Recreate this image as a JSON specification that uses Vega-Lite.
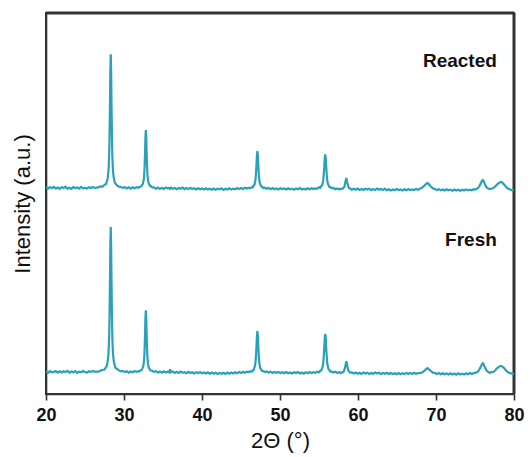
{
  "$schema": "https://vega.github.io/schema/vega-lite/v6.json",
  "autosize": {"type": "none"},
  "width": 468,
  "height": 381,
  "padding": {"left": 46, "top": 13, "right": 16, "bottom": 63},
  "background": "white",
  "view": {"stroke": "#333333", "strokeWidth": 2},
  "datasets": {
    "xrd": [
      {"x":20,"r":206.5,"f":22.4},{"x":20.25,"r":205.3,"f":21.2},{"x":20.5,"r":206.9,"f":22.9},{"x":20.75,"r":205.8,"f":21.6},
      {"x":21,"r":207.2,"f":22.1},{"x":21.25,"r":205.6,"f":23.0},{"x":21.5,"r":206.4,"f":21.3},{"x":21.75,"r":205.2,"f":22.6},
      {"x":22,"r":206.8,"f":21.5},{"x":22.25,"r":206.0,"f":22.8},{"x":22.5,"r":207.3,"f":21.9},{"x":22.75,"r":205.4,"f":23.1},
      {"x":23,"r":206.3,"f":21.4},{"x":23.25,"r":205.1,"f":22.5},{"x":23.5,"r":206.9,"f":21.7},{"x":23.75,"r":205.9,"f":22.9},
      {"x":24,"r":206.6,"f":21.2},{"x":24.25,"r":205.3,"f":22.3},{"x":24.5,"r":207.0,"f":21.8},{"x":24.75,"r":205.7,"f":23.0},
      {"x":25,"r":206.2,"f":22.0},{"x":25.25,"r":205.5,"f":21.4},{"x":25.5,"r":206.8,"f":22.7},{"x":25.75,"r":205.9,"f":22.1},
      {"x":26,"r":207.0,"f":23.0},{"x":26.25,"r":206.1,"f":22.2},{"x":26.5,"r":206.4,"f":22.5},{"x":26.75,"r":206.9,"f":22.3},
      {"x":27,"r":207.6,"f":23.4},{"x":27.25,"r":207.4,"f":24.0},{"x":27.5,"r":209.2,"f":24.5},{"x":27.7,"r":210.0,"f":26.9},
      {"x":27.8,"r":212.6,"f":28.2},{"x":27.9,"r":215.0,"f":32.6},{"x":28.0,"r":222.5,"f":39.0},{"x":28.05,"r":228.4,"f":47.1},
      {"x":28.1,"r":239.8,"f":58.0},{"x":28.15,"r":259.2,"f":80.3},{"x":28.2,"r":289.2,"f":111.6},{"x":28.25,"r":323.3,"f":149.9},
      {"x":28.3,"r":339.6,"f":167.0},{"x":28.35,"r":323.9,"f":149.2},{"x":28.4,"r":288.5,"f":112.2},{"x":28.45,"r":259.8,"f":79.7},
      {"x":28.5,"r":239.2,"f":58.6},{"x":28.55,"r":229.2,"f":46.4},{"x":28.6,"r":221.8,"f":39.7},{"x":28.7,"r":215.7,"f":31.9},
      {"x":28.8,"r":211.8,"f":28.8},{"x":28.9,"r":210.7,"f":26.3},{"x":29.1,"r":208.5,"f":25.2},{"x":29.35,"r":207.3,"f":23.6},
      {"x":29.6,"r":207.0,"f":22.6},{"x":29.85,"r":206.1,"f":23.1},{"x":30.1,"r":206.8,"f":21.9},{"x":30.35,"r":205.5,"f":22.8},
      {"x":30.6,"r":206.6,"f":21.4},{"x":30.85,"r":205.4,"f":22.5},{"x":31.1,"r":206.7,"f":21.8},{"x":31.35,"r":205.8,"f":23.0},
      {"x":31.6,"r":206.9,"f":22.1},{"x":31.85,"r":206.3,"f":22.9},{"x":32.0,"r":207.3,"f":22.7},{"x":32.2,"r":207.5,"f":24.1},
      {"x":32.3,"r":208.9,"f":24.3},{"x":32.4,"r":209.7,"f":26.4},{"x":32.5,"r":213.2,"f":28.9},{"x":32.55,"r":215.5,"f":32.6},
      {"x":32.6,"r":220.7,"f":37.0},{"x":32.65,"r":228.8,"f":46.9},{"x":32.7,"r":242.2,"f":59.9},{"x":32.75,"r":256.6,"f":76.7},
      {"x":32.8,"r":263.9,"f":83.8},{"x":32.85,"r":257.2,"f":76.1},{"x":32.9,"r":241.6,"f":60.5},{"x":32.95,"r":229.4,"f":46.3},
      {"x":33.0,"r":220.1,"f":37.6},{"x":33.05,"r":216.1,"f":32.0},{"x":33.1,"r":212.6,"f":29.5},{"x":33.2,"r":210.3,"f":25.8},
      {"x":33.3,"r":208.2,"f":24.9},{"x":33.4,"r":208.1,"f":23.5},{"x":33.6,"r":206.8,"f":23.3},{"x":33.85,"r":206.4,"f":22.2},
      {"x":34.1,"r":205.3,"f":22.8},{"x":34.35,"r":206.5,"f":21.5},{"x":34.6,"r":205.1,"f":22.4},{"x":34.85,"r":206.2,"f":21.2},
      {"x":35.1,"r":205.0,"f":22.6},{"x":35.35,"r":206.4,"f":21.6},{"x":35.6,"r":205.6,"f":22.3},{"x":35.8,"r":206.0,"f":21.5},
      {"x":35.9,"r":205.2,"f":24.8},{"x":36.0,"r":206.3,"f":21.9},{"x":36.25,"r":205.3,"f":22.5},{"x":36.5,"r":206.1,"f":21.1},
      {"x":36.75,"r":204.9,"f":22.2},{"x":37.0,"r":206.0,"f":21.0},{"x":37.25,"r":205.2,"f":22.4},{"x":37.5,"r":206.4,"f":21.3},
      {"x":37.75,"r":204.8,"f":21.9},{"x":38.0,"r":205.9,"f":20.8},{"x":38.25,"r":205.0,"f":22.1},{"x":38.5,"r":206.2,"f":21.0},
      {"x":38.75,"r":204.9,"f":21.8},{"x":39.0,"r":205.7,"f":20.6},{"x":39.25,"r":204.6,"f":21.7},{"x":39.5,"r":205.8,"f":20.9},
      {"x":39.75,"r":204.7,"f":22.0},{"x":40.0,"r":205.6,"f":20.7},{"x":40.25,"r":204.5,"f":21.5},{"x":40.5,"r":205.7,"f":20.5},
      {"x":40.75,"r":204.4,"f":21.6},{"x":41.0,"r":205.2,"f":20.3},{"x":41.25,"r":204.3,"f":21.4},{"x":41.5,"r":205.5,"f":20.2},
      {"x":41.75,"r":204.2,"f":21.2},{"x":42.0,"r":205.3,"f":20.0},{"x":42.25,"r":204.6,"f":21.1},{"x":42.5,"r":205.6,"f":20.3},
      {"x":42.75,"r":204.1,"f":21.3},{"x":43.0,"r":205.2,"f":20.1},{"x":43.25,"r":204.5,"f":21.5},{"x":43.5,"r":205.7,"f":20.4},
      {"x":43.75,"r":204.4,"f":21.6},{"x":44.0,"r":205.4,"f":20.6},{"x":44.25,"r":204.8,"f":21.8},{"x":44.5,"r":205.9,"f":20.7},
      {"x":44.75,"r":204.9,"f":22.0},{"x":45.0,"r":206.0,"f":21.0},{"x":45.25,"r":205.1,"f":22.2},{"x":45.5,"r":206.2,"f":21.3},
      {"x":45.75,"r":205.4,"f":22.4},{"x":46.0,"r":206.3,"f":21.9},{"x":46.15,"r":205.8,"f":22.7},{"x":46.4,"r":206.9,"f":22.4},
      {"x":46.5,"r":206.6,"f":23.8},{"x":46.62,"r":208.3,"f":24.0},{"x":46.74,"r":209.5,"f":26.9},{"x":46.8,"r":212.0,"f":28.3},
      {"x":46.86,"r":214.4,"f":32.2},{"x":46.92,"r":220.6,"f":37.8},{"x":46.98,"r":228.3,"f":47.5},{"x":47.04,"r":238.5,"f":57.8},
      {"x":47.1,"r":242.8,"f":63.0},{"x":47.16,"r":238.1,"f":58.2},{"x":47.22,"r":228.9,"f":46.9},{"x":47.28,"r":220.0,"f":38.4},
      {"x":47.34,"r":215.0,"f":31.6},{"x":47.4,"r":211.4,"f":28.9},{"x":47.46,"r":210.1,"f":26.2},{"x":47.58,"r":207.6,"f":24.7},
      {"x":47.7,"r":207.3,"f":23.1},{"x":47.82,"r":206.2,"f":23.0},{"x":48.06,"r":206.4,"f":22.0},{"x":48.3,"r":205.2,"f":22.6},
      {"x":48.55,"r":206.1,"f":21.4},{"x":48.8,"r":204.8,"f":22.3},{"x":49.05,"r":205.9,"f":21.0},{"x":49.3,"r":204.7,"f":22.1},
      {"x":49.55,"r":205.6,"f":21.2},{"x":49.8,"r":204.6,"f":22.0},{"x":50.05,"r":205.8,"f":20.9},{"x":50.3,"r":204.9,"f":21.8},
      {"x":50.55,"r":205.5,"f":20.7},{"x":50.8,"r":204.5,"f":21.9},{"x":51.05,"r":205.7,"f":20.8},{"x":51.3,"r":204.6,"f":21.6},
      {"x":51.55,"r":205.4,"f":20.6},{"x":51.8,"r":204.3,"f":21.7},{"x":52.05,"r":205.6,"f":20.9},{"x":52.3,"r":204.8,"f":21.9},
      {"x":52.55,"r":205.9,"f":20.6},{"x":52.8,"r":204.5,"f":21.5},{"x":53.05,"r":205.3,"f":20.4},{"x":53.3,"r":204.4,"f":21.7},
      {"x":53.55,"r":205.7,"f":20.8},{"x":53.8,"r":204.7,"f":22.0},{"x":54.05,"r":205.8,"f":20.9},{"x":54.3,"r":204.9,"f":21.8},
      {"x":54.55,"r":205.6,"f":21.2},{"x":54.76,"r":205.3,"f":22.3},{"x":55.02,"r":206.8,"f":21.8},{"x":55.15,"r":206.2,"f":23.2},
      {"x":55.28,"r":207.8,"f":23.4},{"x":55.41,"r":208.7,"f":26.1},{"x":55.48,"r":211.2,"f":27.3},{"x":55.54,"r":213.3,"f":31.1},
      {"x":55.6,"r":219.1,"f":36.3},{"x":55.67,"r":226.1,"f":45.5},{"x":55.73,"r":235.7,"f":55.0},{"x":55.8,"r":239.5,"f":60.0},
      {"x":55.87,"r":235.1,"f":55.6},{"x":55.93,"r":226.7,"f":44.9},{"x":56.0,"r":218.5,"f":36.9},{"x":56.06,"r":213.9,"f":30.5},
      {"x":56.12,"r":210.6,"f":27.9},{"x":56.19,"r":209.4,"f":25.4},{"x":56.32,"r":207.1,"f":24.0},{"x":56.45,"r":206.9,"f":22.5},
      {"x":56.58,"r":205.8,"f":22.6},{"x":56.84,"r":206.0,"f":21.5},{"x":57.1,"r":204.7,"f":22.2},{"x":57.35,"r":205.6,"f":21.0},
      {"x":57.6,"r":204.5,"f":21.9},{"x":57.8,"r":205.2,"f":20.9},{"x":58.02,"r":205.4,"f":22.0},{"x":58.14,"r":206.3,"f":22.0},
      {"x":58.26,"r":207.2,"f":24.2},{"x":58.38,"r":211.9,"f":28.0},{"x":58.5,"r":216.1,"f":32.9},{"x":58.62,"r":211.5,"f":28.6},
      {"x":58.74,"r":207.8,"f":23.6},{"x":58.86,"r":205.7,"f":22.6},{"x":58.98,"r":205.6,"f":21.4},{"x":59.2,"r":204.3,"f":21.6},
      {"x":59.45,"r":205.3,"f":20.5},{"x":59.7,"r":204.2,"f":21.5},{"x":59.95,"r":205.4,"f":20.3},{"x":60.2,"r":204.1,"f":21.3},
      {"x":60.45,"r":205.0,"f":20.1},{"x":60.7,"r":204.0,"f":21.4},{"x":60.95,"r":205.2,"f":20.4},{"x":61.2,"r":204.4,"f":21.2},
      {"x":61.45,"r":205.3,"f":20.0},{"x":61.7,"r":203.9,"f":21.1},{"x":61.95,"r":204.9,"f":20.3},{"x":62.2,"r":204.0,"f":21.4},
      {"x":62.45,"r":205.4,"f":20.5},{"x":62.7,"r":204.3,"f":21.2},{"x":62.95,"r":205.1,"f":20.0},{"x":63.2,"r":204.0,"f":21.0},
      {"x":63.45,"r":205.2,"f":20.2},{"x":63.7,"r":203.8,"f":21.3},{"x":63.95,"r":204.7,"f":20.1},{"x":64.2,"r":203.6,"f":21.0},
      {"x":64.45,"r":204.6,"f":19.9},{"x":64.7,"r":203.7,"f":20.8},{"x":64.95,"r":204.9,"f":19.8},{"x":65.2,"r":203.9,"f":20.9},
      {"x":65.45,"r":204.5,"f":19.7},{"x":65.7,"r":203.6,"f":20.7},{"x":65.95,"r":204.8,"f":19.9},{"x":66.2,"r":203.8,"f":21.0},
      {"x":66.45,"r":205.0,"f":20.1},{"x":66.7,"r":203.9,"f":21.1},{"x":66.95,"r":204.6,"f":20.0},{"x":67.2,"r":204.0,"f":21.2},
      {"x":67.45,"r":205.1,"f":20.3},{"x":67.7,"r":204.2,"f":21.0},{"x":67.95,"r":205.5,"f":20.9},{"x":68.2,"r":206.3,"f":21.4},
      {"x":68.45,"r":207.8,"f":22.9},{"x":68.7,"r":210.0,"f":24.6},{"x":68.9,"r":211.0,"f":25.8},{"x":69.1,"r":209.6,"f":24.7},
      {"x":69.35,"r":207.5,"f":23.0},{"x":69.6,"r":205.6,"f":21.3},{"x":69.85,"r":205.1,"f":21.2},{"x":70.1,"r":203.9,"f":20.0},
      {"x":70.35,"r":204.8,"f":20.9},{"x":70.6,"r":203.7,"f":19.8},{"x":70.85,"r":204.6,"f":20.8},{"x":71.1,"r":203.5,"f":19.7},
      {"x":71.35,"r":204.7,"f":20.6},{"x":71.6,"r":203.6,"f":19.5},{"x":71.85,"r":204.4,"f":20.7},{"x":72.1,"r":203.3,"f":19.6},
      {"x":72.35,"r":204.5,"f":20.5},{"x":72.6,"r":203.4,"f":19.4},{"x":72.85,"r":204.3,"f":20.6},{"x":73.1,"r":203.2,"f":19.5},
      {"x":73.35,"r":204.2,"f":20.4},{"x":73.6,"r":203.5,"f":19.6},{"x":73.85,"r":204.6,"f":20.8},{"x":74.1,"r":203.6,"f":19.8},
      {"x":74.35,"r":204.4,"f":20.9},{"x":74.6,"r":203.7,"f":20.0},{"x":74.85,"r":204.8,"f":20.9},{"x":75.1,"r":204.6,"f":21.3},
      {"x":75.35,"r":205.8,"f":22.2},{"x":75.55,"r":207.6,"f":24.3},{"x":75.75,"r":211.0,"f":27.5},{"x":75.9,"r":213.4,"f":29.8},
      {"x":76.0,"r":214.0,"f":30.7},{"x":76.1,"r":213.0,"f":29.6},{"x":76.25,"r":210.3,"f":26.9},{"x":76.45,"r":207.0,"f":23.7},
      {"x":76.65,"r":205.6,"f":22.4},{"x":76.9,"r":204.9,"f":21.0},{"x":77.1,"r":205.3,"f":21.9},{"x":77.35,"r":205.9,"f":22.0},
      {"x":77.6,"r":207.6,"f":23.8},{"x":77.85,"r":209.8,"f":26.0},{"x":78.1,"r":211.2,"f":27.4},{"x":78.3,"r":212.0,"f":28.1},
      {"x":78.5,"r":211.5,"f":27.6},{"x":78.75,"r":209.2,"f":25.7},{"x":79.0,"r":207.0,"f":23.2},{"x":79.25,"r":205.3,"f":21.8},
      {"x":79.5,"r":204.6,"f":20.8},{"x":79.75,"r":203.7,"f":20.4},{"x":80.0,"r":204.2,"f":19.9}
    ],
    "labels": [
      {"x": 77.8, "y": 333, "label": "Reacted"},
      {"x": 77.8, "y": 154, "label": "Fresh"}
    ],
    "frame": [
      {"x1": 20, "x2": 80, "y1": 381, "y2": 381},
      {"x1": 80, "x2": 80, "y1": 0, "y2": 381}
    ]
  },
  "layer": [
    {
      "data": {"name": "frame"},
      "mark": {"type": "rule", "color": "#333333", "strokeWidth": 3},
      "encoding": {
        "x": {"field": "x1", "type": "quantitative", "scale": {"domain": [20, 80], "nice": false, "zero": false},
          "axis": {"title": "2Θ (°)", "values": [20,25,30,35,40,45,50,55,60,65,70,75,80],
            "labelExpr": "datum.value % 10 === 0 ? datum.label : ''", "grid": false,
            "domainColor": "#333333", "domainWidth": 1.6, "tickColor": "#333333", "tickWidth": 1.6,
            "tickSize": 6, "labelPadding": 6, "labelFont": "Liberation Sans", "labelFontSize": 18, "labelFontWeight": "bold", "labelColor": "#111111", "labelFlush": false,
            "titleFont": "Liberation Sans", "titleFontSize": 22, "titleFontWeight": "normal", "titleColor": "#111111", "titlePadding": 6}},
        "x2": {"field": "x2"},
        "y": {"field": "y1", "type": "quantitative", "scale": {"domain": [0, 381], "nice": false, "zero": false},
          "axis": {"title": "Intensity (a.u.)", "labels": false, "ticks": false, "grid": false,
            "domainColor": "#333333", "domainWidth": 1.6,
            "titleFont": "Liberation Sans", "titleFontSize": 22, "titleFontWeight": "normal", "titleColor": "#111111", "titlePadding": 12}},
        "y2": {"field": "y2"}
      }
    },
    {
      "data": {"name": "xrd"},
      "mark": {"type": "line", "color": "#2aa0b9", "strokeWidth": 2.2},
      "encoding": {
        "x": {"field": "x", "type": "quantitative"},
        "y": {"field": "r", "type": "quantitative"}
      }
    },
    {
      "data": {"name": "xrd"},
      "mark": {"type": "line", "color": "#2aa0b9", "strokeWidth": 2.2},
      "encoding": {
        "x": {"field": "x", "type": "quantitative"},
        "y": {"field": "f", "type": "quantitative"}
      }
    },
    {
      "data": {"name": "labels"},
      "mark": {"type": "text", "align": "right", "baseline": "middle", "font": "Liberation Sans", "fontSize": 19, "fontWeight": "bold", "color": "#111111"},
      "encoding": {
        "x": {"field": "x", "type": "quantitative"},
        "y": {"field": "y", "type": "quantitative"},
        "text": {"field": "label"}
      }
    }
  ]
}
